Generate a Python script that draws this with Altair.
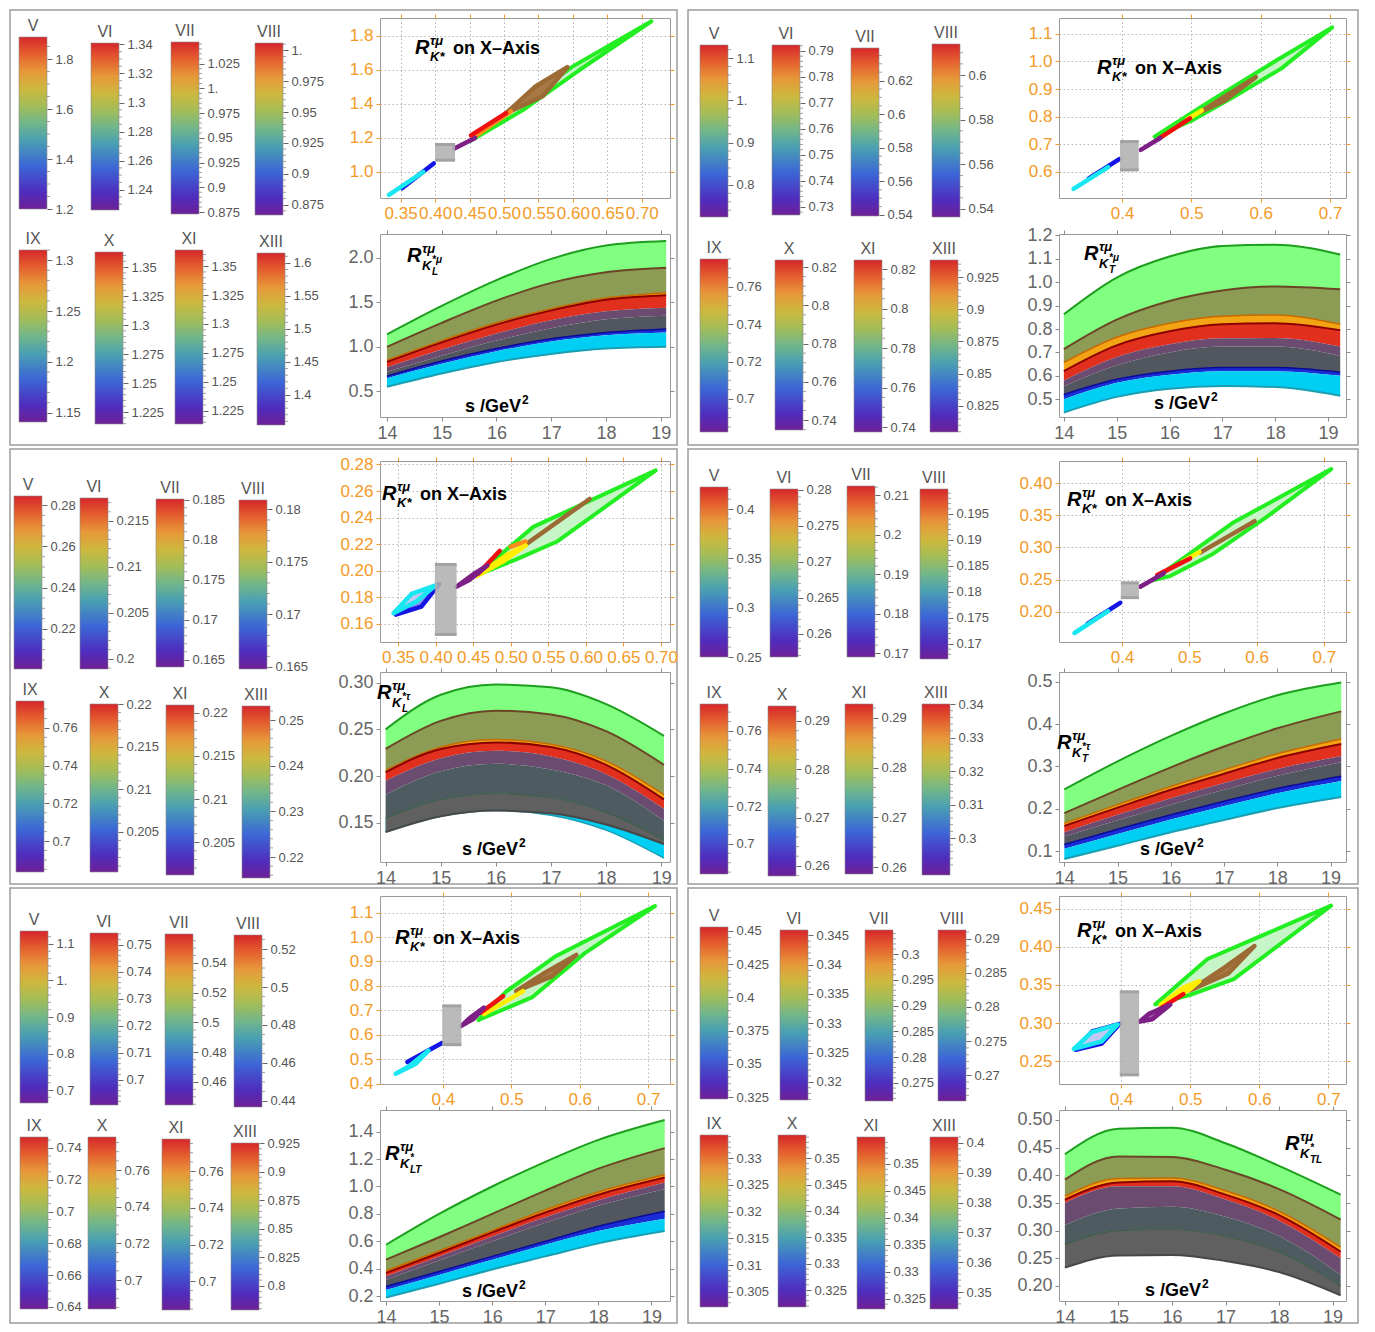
import math
import altair as alt
import pandas as pd

FONT = "Liberation Sans"
ORANGE = "#F39A27"
LABEL_GRAY = "#666666"

# ---------------- colour-bar data ----------------
CB_TITLES = ["V", "VI", "VII", "VIII", "IX", "X", "XI", "XIII"]

P1_CB_RANGE = [[1.2, 1.888], [1.226, 1.341], [0.873, 1.047], [0.8666, 1.006],
               [1.141, 1.31], [1.2147, 1.363], [1.2135, 1.364], [1.3545, 1.615]]
P1_CB_TICKS = [[1.2, 1.4, 1.6, 1.8], [1.24, 1.26, 1.28, 1.3, 1.32, 1.34],
               [0.875, 0.9, 0.925, 0.95, 0.975, 1.0, 1.025], [0.875, 0.9, 0.925, 0.95, 0.975, 1.0],
               [1.15, 1.2, 1.25, 1.3], [1.225, 1.25, 1.275, 1.3, 1.325, 1.35],
               [1.225, 1.25, 1.275, 1.3, 1.325, 1.35], [1.4, 1.45, 1.5, 1.55, 1.6]]

P2_CB_RANGE = [[0.724, 1.131], [0.7269, 0.7923], [0.5394, 0.6394], [0.5364, 0.6139],
               [0.6823, 0.775], [0.7348, 0.8237], [0.7375, 0.8246], [0.8048, 0.9382]]
P2_CB_TICKS = [[0.8, 0.9, 1.0, 1.1], [0.73, 0.74, 0.75, 0.76, 0.77, 0.78, 0.79],
               [0.54, 0.56, 0.58, 0.6, 0.62, 0.64], [0.54, 0.56, 0.58, 0.6],
               [0.7, 0.72, 0.74, 0.76], [0.74, 0.76, 0.78, 0.8, 0.82],
               [0.74, 0.76, 0.78, 0.8, 0.82], [0.825, 0.85, 0.875, 0.9, 0.925]]

P3_CB_RANGE = [[0.2006, 0.2844], [0.1989, 0.2175], [0.1641, 0.1851], [0.1648, 0.1809],
               [0.6836, 0.7743], [0.2003, 0.22], [0.2012, 0.2209], [0.2154, 0.2531]]
P3_CB_TICKS = [[0.22, 0.24, 0.26, 0.28], [0.2, 0.205, 0.21, 0.215],
               [0.165, 0.17, 0.175, 0.18, 0.185], [0.165, 0.17, 0.175, 0.18],
               [0.7, 0.72, 0.74, 0.76], [0.205, 0.21, 0.215, 0.22],
               [0.205, 0.21, 0.215, 0.22], [0.22, 0.23, 0.24, 0.25]]

P4_CB_RANGE = [[0.25, 0.4223], [0.2568, 0.2801], [0.169, 0.2123], [0.1671, 0.1998],
               [0.684, 0.7743], [0.2579, 0.2931], [0.2586, 0.2928], [0.289, 0.34]]
P4_CB_TICKS = [[0.25, 0.3, 0.35, 0.4], [0.26, 0.265, 0.27, 0.275, 0.28],
               [0.17, 0.18, 0.19, 0.2, 0.21], [0.17, 0.175, 0.18, 0.185, 0.19, 0.195],
               [0.7, 0.72, 0.74, 0.76], [0.26, 0.27, 0.28, 0.29],
               [0.26, 0.27, 0.28, 0.29], [0.3, 0.31, 0.32, 0.33, 0.34]]

P5_CB_RANGE = [[0.6644, 1.1356], [0.6907, 0.7544], [0.4445, 0.5595], [0.4368, 0.5274],
               [0.6387, 0.7469], [0.6842, 0.778], [0.6844, 0.7775], [0.7789, 0.925]]
P5_CB_TICKS = [[0.7, 0.8, 0.9, 1.0, 1.1], [0.7, 0.71, 0.72, 0.73, 0.74, 0.75],
               [0.46, 0.48, 0.5, 0.52, 0.54], [0.44, 0.46, 0.48, 0.5, 0.52],
               [0.64, 0.66, 0.68, 0.7, 0.72, 0.74], [0.7, 0.72, 0.74, 0.76],
               [0.7, 0.72, 0.74, 0.76], [0.8, 0.825, 0.85, 0.875, 0.9, 0.925]]

P6_CB_RANGE = [[0.3235, 0.453], [0.3169, 0.3459], [0.2715, 0.3047], [0.2662, 0.2913],
               [0.3022, 0.3343], [0.3218, 0.3544], [0.3231, 0.355], [0.3443, 0.402]]
P6_CB_TICKS = [[0.325, 0.35, 0.375, 0.4, 0.425, 0.45], [0.32, 0.325, 0.33, 0.335, 0.34, 0.345],
               [0.275, 0.28, 0.285, 0.29, 0.295, 0.3], [0.27, 0.275, 0.28, 0.285, 0.29],
               [0.305, 0.31, 0.315, 0.32, 0.325, 0.33], [0.325, 0.33, 0.335, 0.34, 0.345, 0.35],
               [0.325, 0.33, 0.335, 0.34, 0.345, 0.35], [0.35, 0.36, 0.37, 0.38, 0.39, 0.4]]

CB_RANGES = [P1_CB_RANGE, P2_CB_RANGE, P3_CB_RANGE, P4_CB_RANGE, P5_CB_RANGE, P6_CB_RANGE]
CB_TICKS = [P1_CB_TICKS, P2_CB_TICKS, P3_CB_TICKS, P4_CB_TICKS, P5_CB_TICKS, P6_CB_TICKS]

# ---------------- "on X-Axis" plots ----------------
P1_SHAPES = {
    "green": [(0.452, 1.184), (0.52, 1.39), (0.60, 1.62), (0.714, 1.885), (0.61, 1.60), (0.53, 1.37)],
    "brown": [(0.503, 1.345), (0.545, 1.50), (0.592, 1.615), (0.556, 1.445)],
    "orange": [(0.455, 1.2), (0.51, 1.355)],
    "red": [(0.452, 1.215), (0.503, 1.345)],
    "purple": [(0.428, 1.137), (0.458, 1.2)],
    "blue": [(0.352, 0.905), (0.398, 1.05)],
    "cyan": [(0.333, 0.866), (0.383, 1.0)],
}
P1_BOX = [0.400, 0.429, 1.069, 1.161]

P2_SHAPES = {
    "green": [(0.447, 0.727), (0.52, 0.845), (0.62, 1.0), (0.703, 1.124), (0.63, 0.975), (0.56, 0.87), (0.50, 0.785)],
    "brown": [(0.512, 0.815), (0.55, 0.876), (0.593, 0.943), (0.548, 0.858)],
    "yellow": [(0.494, 0.79), (0.515, 0.822)],
    "red": [(0.453, 0.72), (0.498, 0.793)],
    "purple": [(0.427, 0.679), (0.455, 0.722)],
    "blue": [(0.352, 0.575), (0.396, 0.645)],
    "cyan": [(0.330, 0.537), (0.38, 0.616)],
}
P2_BOX = [0.397, 0.424, 0.606, 0.709]

P3_SHAPES = {
    "green": [(0.453, 0.196), (0.53, 0.233), (0.693, 0.2755), (0.562, 0.222), (0.505, 0.208)],
    "brown": [(0.523, 0.221), (0.605, 0.254)],
    "orange": [(0.50, 0.218), (0.52, 0.222)],
    "yellow": [(0.455, 0.196), (0.49, 0.207), (0.52, 0.219), (0.495, 0.212)],
    "red": [(0.457, 0.198), (0.4855, 0.215)],
    "purple": [(0.428, 0.188), (0.452, 0.198), (0.469, 0.204), (0.445, 0.193)],
    "blue": [(0.347, 0.167), (0.381, 0.173), (0.405, 0.19)],
    "cyan": [(0.344, 0.168), (0.368, 0.1825), (0.40, 0.189), (0.375, 0.177)],
}
P3_BOX = [0.399, 0.428, 0.152, 0.2047]

P4_SHAPES = {
    "green": [(0.445, 0.249), (0.564, 0.338), (0.711, 0.422), (0.613, 0.346), (0.535, 0.29), (0.47, 0.255)],
    "brown": [(0.516, 0.292), (0.597, 0.341)],
    "yellow": [(0.49, 0.278), (0.515, 0.293)],
    "red": [(0.452, 0.257), (0.501, 0.283)],
    "purple": [(0.427, 0.239), (0.462, 0.26)],
    "blue": [(0.348, 0.181), (0.397, 0.214)],
    "cyan": [(0.329, 0.167), (0.379, 0.201)],
}
P4_BOX = [0.398, 0.425, 0.222, 0.245]

P5_SHAPES = {
    "green": [(0.452, 0.66), (0.493, 0.778), (0.564, 0.92), (0.71, 1.127), (0.607, 0.933), (0.531, 0.754)],
    "brown": [(0.507, 0.778), (0.55, 0.855), (0.595, 0.927), (0.56, 0.84)],
    "yellow": [(0.46, 0.684), (0.517, 0.778)],
    "red": [(0.455, 0.69), (0.488, 0.758)],
    "purple": [(0.427, 0.636), (0.445, 0.665), (0.46, 0.711), (0.44, 0.67)],
    "blue": [(0.348, 0.488), (0.398, 0.565)],
    "cyan": [(0.331, 0.44), (0.36, 0.48), (0.379, 0.535), (0.35, 0.47)],
}
P5_BOX = [0.399, 0.427, 0.559, 0.718]

P6_SHAPES = {
    "green": [(0.4495, 0.3245), (0.525, 0.384), (0.704, 0.454), (0.563, 0.3575), (0.50, 0.337)],
    "brown": [(0.50, 0.343), (0.55, 0.373), (0.593, 0.401), (0.555, 0.365)],
    "yellow": [(0.457, 0.324), (0.49, 0.3465), (0.513, 0.355), (0.499, 0.344)],
    "red": [(0.453, 0.317), (0.49, 0.338)],
    "purple": [(0.427, 0.302), (0.445, 0.305), (0.471, 0.324), (0.44, 0.312)],
    "blue": [(0.334, 0.265), (0.372, 0.273), (0.398, 0.299), (0.358, 0.289)],
    "cyan": [(0.3316, 0.266), (0.3575, 0.288), (0.395, 0.298), (0.372, 0.276)],
}
P6_BOX = [0.398, 0.426, 0.232, 0.341]

TOP_SHAPES = [P1_SHAPES, P2_SHAPES, P3_SHAPES, P4_SHAPES, P5_SHAPES, P6_SHAPES]
TOP_BOX = [P1_BOX, P2_BOX, P3_BOX, P4_BOX, P5_BOX, P6_BOX]

TOP_XDOM = [[0.32, 0.741], [0.309, 0.723], [0.326, 0.712], [0.306, 0.733], [0.308, 0.732], [0.310, 0.7255]]
TOP_YDOM = [[0.847, 1.904], [0.504, 1.158], [0.1463, 0.2826], [0.153, 0.4345], [0.398, 1.168], [0.22, 0.4667]]
X_TICKS_FINE = [0.35, 0.40, 0.45, 0.50, 0.55, 0.60, 0.65, 0.70]
X_TICKS_COARSE = [0.4, 0.5, 0.6, 0.7]
TOP_XTICKS = [X_TICKS_FINE, X_TICKS_COARSE, X_TICKS_FINE, X_TICKS_COARSE, X_TICKS_COARSE, X_TICKS_COARSE]
TOP_XFMT = [".2f", ".1f", ".2f", ".1f", ".1f", ".1f"]
TOP_YTICKS = [[1.0, 1.2, 1.4, 1.6, 1.8],
              [0.6, 0.7, 0.8, 0.9, 1.0, 1.1],
              [0.16, 0.18, 0.20, 0.22, 0.24, 0.26, 0.28],
              [0.20, 0.25, 0.30, 0.35, 0.40],
              [0.4, 0.5, 0.6, 0.7, 0.8, 0.9, 1.0, 1.1],
              [0.25, 0.30, 0.35, 0.40, 0.45]]
TOP_YFMT = [".1f", ".1f", ".2f", ".2f", ".1f", ".2f"]

# ---------------- s / GeV^2 band plots ----------------
P1_S = [14, 15, 16, 17, 18, 19.1]
P1_CURVES = {
    "G": [1.14, 1.46, 1.75, 1.99, 2.14, 2.19],
    "B": [1.00, 1.27, 1.52, 1.72, 1.84, 1.89],
    "O": [0.85, 1.07, 1.27, 1.43, 1.55, 1.61],
    "R": [0.83, 1.05, 1.25, 1.41, 1.53, 1.58],
    "Rb": [0.77, 0.97, 1.15, 1.30, 1.40, 1.44],
    "P": [0.72, 0.90, 1.07, 1.21, 1.31, 1.35],
    "Bl": [0.67, 0.84, 0.98, 1.09, 1.16, 1.20],
    "C": [0.645, 0.81, 0.95, 1.06, 1.13, 1.16],
    "Cb": [0.55, 0.70, 0.83, 0.92, 0.98, 1.00],
}
P2_S = [14, 15, 16, 17, 18, 19.23]
P2_CURVES = {
    "G": [0.863, 1.02, 1.11, 1.155, 1.16, 1.118],
    "B": [0.714, 0.84, 0.92, 0.965, 0.982, 0.97],
    "O": [0.657, 0.765, 0.825, 0.855, 0.86, 0.82],
    "R": [0.62, 0.73, 0.79, 0.82, 0.825, 0.795],
    "Rb": [0.58, 0.68, 0.735, 0.76, 0.762, 0.725],
    "P": [0.555, 0.645, 0.70, 0.725, 0.725, 0.685],
    "Bl": [0.52, 0.585, 0.62, 0.635, 0.635, 0.615],
    "C": [0.50, 0.57, 0.605, 0.62, 0.62, 0.60],
    "Cb": [0.443, 0.51, 0.545, 0.556, 0.552, 0.515],
}
P3_S = [14, 15, 16, 17, 18, 19.05]
P3_CURVES = {
    "G": [0.25, 0.287, 0.298, 0.295, 0.277, 0.243],
    "B": [0.229, 0.259, 0.27, 0.266, 0.248, 0.212],
    "O": [0.206, 0.231, 0.239, 0.234, 0.216, 0.18],
    "R": [0.204, 0.229, 0.236, 0.231, 0.212, 0.175],
    "Rb": [0.195, 0.219, 0.227, 0.221, 0.202, 0.165],
    "P": [0.18, 0.205, 0.213, 0.207, 0.19, 0.152],
    "M": [0.155, 0.175, 0.181, 0.177, 0.161, 0.132],
    "Gb": [0.14, 0.157, 0.163, 0.16, 0.148, 0.127],
    "Cb": [0.14, 0.157, 0.163, 0.158, 0.142, 0.112],
}
P4_S = [14, 15, 16, 17, 18, 19.2]
P4_CURVES = {
    "G": [0.246, 0.312, 0.372, 0.425, 0.468, 0.498],
    "B": [0.19, 0.245, 0.298, 0.347, 0.39, 0.43],
    "O": [0.166, 0.21, 0.253, 0.292, 0.33, 0.365],
    "R": [0.16, 0.203, 0.245, 0.283, 0.32, 0.353],
    "Rb": [0.145, 0.186, 0.225, 0.261, 0.294, 0.325],
    "P": [0.135, 0.173, 0.21, 0.245, 0.278, 0.31],
    "Bl": [0.116, 0.152, 0.186, 0.218, 0.248, 0.277],
    "C": [0.106, 0.141, 0.175, 0.207, 0.237, 0.266],
    "Cb": [0.082, 0.113, 0.145, 0.174, 0.202, 0.228],
}
P5_S = [14, 15, 16, 17, 18, 19.25]
P5_CURVES = {
    "G": [0.575, 0.80, 1.00, 1.18, 1.34, 1.485],
    "B": [0.466, 0.63, 0.80, 0.97, 1.13, 1.28],
    "O": [0.385, 0.53, 0.68, 0.83, 0.96, 1.085],
    "R": [0.37, 0.515, 0.665, 0.81, 0.94, 1.065],
    "Rb": [0.345, 0.49, 0.635, 0.775, 0.90, 1.03],
    "P": [0.32, 0.46, 0.60, 0.735, 0.86, 0.98],
    "Bl": [0.27, 0.38, 0.49, 0.60, 0.71, 0.82],
    "C": [0.245, 0.355, 0.465, 0.575, 0.675, 0.765],
    "Cb": [0.19, 0.29, 0.395, 0.49, 0.585, 0.675],
}
P6_S = [14, 15, 16, 17, 18, 19.15]
P6_CURVES = {
    "G": [0.438, 0.484, 0.486, 0.458, 0.417, 0.365],
    "B": [0.392, 0.434, 0.433, 0.41, 0.375, 0.32],
    "O": [0.362, 0.394, 0.395, 0.372, 0.335, 0.27],
    "R": [0.356, 0.387, 0.389, 0.365, 0.328, 0.262],
    "Rb": [0.35, 0.38, 0.38, 0.356, 0.318, 0.25],
    "P": [0.31, 0.34, 0.343, 0.325, 0.29, 0.22],
    "M": [0.275, 0.30, 0.302, 0.29, 0.262, 0.20],
    "Gb": [0.233, 0.255, 0.256, 0.245, 0.225, 0.183],
}
BOT_S = [P1_S, P2_S, P3_S, P4_S, P5_S, P6_S]
BOT_CURVES = [P1_CURVES, P2_CURVES, P3_CURVES, P4_CURVES, P5_CURVES, P6_CURVES]

BOT_XDOM = [[13.873, 19.17], [13.908, 19.34], [13.898, 19.16], [13.9, 19.29], [13.887, 19.35], [13.89, 19.25]]
BOT_YDOM = [[0.21, 2.27], [0.424, 1.206], [0.1079, 0.3114], [0.0748, 0.5228], [0.1646, 1.558], [0.1727, 0.518]]
BOT_XTICKS = [14, 15, 16, 17, 18, 19]
BOT_YTICKS = [[0.5, 1.0, 1.5, 2.0],
              [0.5, 0.6, 0.7, 0.8, 0.9, 1.0, 1.1, 1.2],
              [0.15, 0.20, 0.25, 0.30],
              [0.1, 0.2, 0.3, 0.4, 0.5],
              [0.2, 0.4, 0.6, 0.8, 1.0, 1.2, 1.4],
              [0.20, 0.25, 0.30, 0.35, 0.40, 0.45, 0.50]]
BOT_YFMT = [".1f", ".1f", ".2f", ".1f", ".1f", ".2f"]
BOT_LABEL_PARTS = [("*μ", "L"), ("*μ", "T"), ("*τ", "L"), ("*τ", "T"), ("*", "LT"), ("*", "TL")]

# ---------------- styles ----------------
RAINBOW = alt.Gradient(
    gradient="linear",
    stops=[alt.GradientStop(color=c, offset=o) for c, o in [
        ("#6E2096", 0.0), ("#4F2DBE", 0.1), ("#3C66D6", 0.25), ("#4AA0B2", 0.4),
        ("#72B689", 0.5), ("#A3BD58", 0.6), ("#CDB83E", 0.7), ("#E7983A", 0.8),
        ("#E4602E", 0.9), ("#D6262B", 1.0)]],
    x1=0, x2=0, y1=1, y2=0)

SHAPE_ORDER = ["green", "brown", "orange", "yellow", "red", "purple", "blue", "cyan"]
SHAPE_STYLE = {
    "green": ("#22EE22", "#C8F5C8", 4),
    "brown": ("#9C6A35", "#A87845", 4.5),
    "orange": ("#FF8C1A", "#FFB060", 4.5),
    "yellow": ("#FFEE00", "#FFF59A", 4.5),
    "red": ("#F01010", "#F05050", 4.5),
    "purple": ("#7E1F86", "#A060A8", 4.5),
    "blue": ("#1414E6", "#9090F0", 4.5),
    "cyan": ("#18E6F0", "#C0C8F4", 4.5),
}

C_GREEN, C_OLIVE, C_ORANGE, C_RED = "#80FF80", "#8C9C55", "#F2A414", "#E2301E"
C_PSLATE, C_SLATE, C_SLATE2, C_BLUE, C_CYAN, C_GRAY = "#6C4B70", "#51565F", "#4E5C62", "#1A2CD6", "#00CFF3", "#606060"
E_GREEN, E_BROWN, E_ORANGE, E_RED, E_BLUE, E_CYAN = "#1E9E1E", "#6B4626", "#C76A00", "#8B0000", "#0A0A96", "#1A9FB2"

TOP_BANDS = [("G", "B", C_GREEN), ("B", "O", C_OLIVE), ("O", "R", C_ORANGE), ("R", "Rb", C_RED)]
TOP_EDGES = [("G", E_GREEN, 2), ("B", E_BROWN, 2), ("O", E_ORANGE, 1.5), ("R", E_RED, 2)]
BANDS_STD = TOP_BANDS + [("Rb", "P", C_PSLATE), ("P", "Bl", C_SLATE), ("Bl", "C", C_BLUE), ("C", "Cb", C_CYAN)]
EDGES_STD = TOP_EDGES + [("Bl", E_BLUE, 1.5), ("Cb", E_CYAN, 2)]
BANDS_G3 = TOP_BANDS + [("Rb", "P", C_PSLATE), ("P", "M", C_SLATE2), ("M", "Cb", C_CYAN), ("M", "Gb", C_GRAY)]
EDGES_G3 = TOP_EDGES + [("M", "#3E5E48", 1.2), ("Cb", E_CYAN, 1.5), ("Gb", "#474747", 2)]
BANDS_G6 = TOP_BANDS + [("Rb", "P", C_PSLATE), ("P", "M", C_SLATE2), ("M", "Gb", C_GRAY)]
EDGES_G6 = TOP_EDGES + [("M", "#3E5E48", 1.2), ("Gb", "#474747", 2)]
BANDS = [BANDS_STD, BANDS_STD, BANDS_G3, BANDS_STD, BANDS_STD, BANDS_G6]
EDGES = [EDGES_STD, EDGES_STD, EDGES_G3, EDGES_STD, EDGES_STD, EDGES_G6]

# ---------------- layout (pixels) ----------------
COL_X = [8, 70, 145, 222, 378, 668, 760, 835, 912, 1057]
ROW_Y = [16, 232, 459, 670, 894, 1108]
ROW_H = [216, 227, 211, 224, 214, 200]
PLOT_W = [290, 287]
TOP_H = [180, 181, 188]
BOT_H = [183, 190, 191]
BAR_W = 28
BAR_X = [[17, 89, 169, 253, 17, 93, 173, 255],
         [698, 770, 849, 930, 698, 773, 852, 928],
         [12, 78, 154, 237, 14, 88, 164, 240],
         [698, 768, 845, 918, 698, 766, 843, 920],
         [18, 88, 163, 232, 18, 86, 160, 229],
         [698, 778, 863, 936, 698, 776, 855, 928]]
BAR_Y = [[(35, 207), (41, 208), (40, 212), (41, 213), (248, 420), (250, 422), (248, 422), (251, 423)],
         [(43, 215), (43, 213), (46, 214), (42, 215), (257, 430), (258, 428), (258, 430), (258, 430)],
         [(494, 667), (496, 667), (497, 665), (498, 667), (699, 870), (702, 870), (703, 873), (704, 876)],
         [(485, 655), (487, 655), (484, 655), (487, 657), (702, 872), (704, 874), (702, 872), (702, 873)],
         [(929, 1101), (931, 1103), (932, 1103), (933, 1105), (1135, 1307), (1135, 1307), (1137, 1308), (1141, 1308)],
         [(925, 1097), (928, 1098), (928, 1099), (928, 1099), (1133, 1305), (1133, 1305), (1135, 1307), (1135, 1307)]]
FRAMES = [(8, 8, 675, 443), (686, 8, 1356, 443), (8, 447, 675, 882),
          (686, 447, 1356, 882), (8, 886, 675, 1321), (686, 886, 1356, 1321)]
TOP_TITLE_POS = [(413, 52), (1095, 72), (380, 498), (1065, 504), (393, 942), (1075, 935)]
BOT_LABEL_POS = [(405, 260), (1082, 258), (375, 697), (1055, 747), (383, 1158), (1283, 1148)]
SGEV_POS = [(513, 410), (1202, 407), (510, 853), (1188, 853), (510, 1295), (1193, 1294)]

ONE = pd.DataFrame({"k": [0]})
LABEL_EXPR = "datum.value == 1 ? '1.' : format(datum.value, '.4~f')"


def text_layer(s, x, y, size, style="normal", weight="bold", align="left", color="black"):
    return alt.Chart(ONE).mark_text(
        text=s, font=FONT, fontSize=size, fontStyle=style, fontWeight=weight,
        align=align, baseline="alphabetic", color=color
    ).encode(x=alt.value(x), y=alt.value(y))


def make_minors(vmin, vmax, ticks):
    step = ticks[1] - ticks[0]
    lead = step / (10 ** math.floor(math.log10(step) + 1e-9))
    sub = 4 if abs(lead - 2) < 1e-6 else 5
    ms = step / sub
    n0 = math.ceil((vmin - ticks[0]) / ms - 1e-9)
    n1 = math.floor((vmax - ticks[0]) / ms + 1e-9)
    return [round(ticks[0] + n * ms, 6) for n in range(n0, n1 + 1) if n % sub != 0]


def mirror_layer(xs, ys, xdom, ydom, xvals, yvals, color):
    """Tick-only axes on the top and right edges of a framed plot."""
    mk = dict(labels=False, ticks=True, tickSize=4, tickColor=color, domain=False,
              grid=False, title=None)
    df = pd.DataFrame({"mx": [xdom[0]], "my": [ydom[0]]})
    return alt.Chart(df).mark_point(opacity=0).encode(
        x=alt.X("mx:Q", scale=xs, axis=alt.Axis(orient="top", values=xvals, **mk)),
        y=alt.Y("my:Q", scale=ys, axis=alt.Axis(orient="right", values=yvals, **mk)))


def colorbar_cell(p, k, j):
    idx = 4 * k + j
    vmin, vmax = CB_RANGES[p][idx]
    ticks = CB_TICKS[p][idx]
    r = 2 * (p // 2) + k
    c = (p % 2) * 5 + j
    W = COL_X[c + 1] - COL_X[c]
    H = ROW_H[r]
    a = BAR_X[p][idx] - COL_X[c]
    top, bot = BAR_Y[p][idx]
    t_rel, b_rel = top - ROW_Y[r], bot - ROW_Y[r]
    ysc = alt.Scale(domain=[vmin, vmax], range=[b_rel, t_rel], nice=False, zero=False)
    yax = alt.Axis(orient="right", offset=-(W - a - BAR_W), values=ticks, labelExpr=LABEL_EXPR,
                   title=None, domain=False, grid=False, tickSize=5, tickColor="#666666",
                   tickWidth=1, labelColor="#555555", labelFontSize=13, labelFont=FONT,
                   labelPadding=3, labelOverlap=False, labelFlush=False)
    bar = alt.Chart(pd.DataFrame({"lo": [vmin], "hi": [vmax]})).mark_rect(
        fill=RAINBOW, stroke="#8c8c8c", strokeWidth=0.6
    ).encode(x=alt.value(a), x2=alt.value(a + BAR_W),
             y=alt.Y("lo:Q", scale=ysc, axis=yax), y2="hi")
    minors = make_minors(vmin, vmax, ticks)
    mt = alt.Chart(pd.DataFrame({"lo": minors})).mark_rule(color="#8a8a8a", strokeWidth=0.8).encode(
        y=alt.Y("lo:Q", scale=ysc, axis=yax), x=alt.value(a + BAR_W), x2=alt.value(a + BAR_W + 3))
    title = text_layer(CB_TITLES[idx], a + BAR_W / 2, t_rel - 6, 16, weight="normal",
                       align="center", color="#555555")
    layers = [bar, mt, title]
    if k == 0 and j == 0:
        fx0, fy0, fx1, fy1 = FRAMES[p]
        frame = alt.Chart(ONE).mark_rect(fill="transparent", stroke="#9c9c9c", strokeWidth=1.5).encode(
            x=alt.value(fx0 - COL_X[c]), x2=alt.value(fx1 - COL_X[c]),
            y=alt.value(fy0 - ROW_Y[r]), y2=alt.value(fy1 - ROW_Y[r]))
        layers.insert(0, frame)
    return alt.layer(*layers).properties(width=W, height=H)


def top_cell(p):
    side, pr = p % 2, p // 2
    r, c = 2 * pr, side * 5 + 4
    W, H = PLOT_W[side], TOP_H[pr]
    xs = alt.Scale(domain=TOP_XDOM[p], nice=False, zero=False)
    ys = alt.Scale(domain=TOP_YDOM[p], nice=False, zero=False)
    common = dict(title=None, grid=True, gridColor="#b4b4b4", gridDash=[1.5, 2.5], gridWidth=1,
                  domain=False, tickColor=ORANGE, tickSize=4, labelColor=ORANGE, labelFontSize=17,
                  labelFont=FONT, labelOverlap=False, labelFlush=False, labelPadding=3)
    xax = alt.Axis(values=TOP_XTICKS[p], format=TOP_XFMT[p], **common)
    yax = alt.Axis(values=TOP_YTICKS[p], format=TOP_YFMT[p], **common)
    X = alt.X("x:Q", scale=xs, axis=xax)
    Y = alt.Y("y:Q", scale=ys, axis=yax)
    layers = []
    shapes = TOP_SHAPES[p]
    for name in SHAPE_ORDER:
        if name not in shapes:
            continue
        pts = shapes[name] + [shapes[name][0]]
        df = pd.DataFrame({"x": [q[0] for q in pts], "y": [q[1] for q in pts], "i": list(range(len(pts)))})
        stroke, fill, sw = SHAPE_STYLE[name]
        layers.append(alt.Chart(df).mark_line(
            stroke=stroke, fill=fill, strokeWidth=sw, strokeJoin="round", strokeCap="round", clip=True
        ).encode(x=X, y=Y, order="i:Q"))
    x0, x1, y0, y1 = TOP_BOX[p]
    bdf = pd.DataFrame({"x": [x0], "x2": [x1], "y": [y0], "y2": [y1]})
    layers.append(alt.Chart(bdf).mark_rect(color="#b0b0b0", opacity=0.88).encode(
        x=X, x2="x2", y=Y, y2="y2"))
    cdf = pd.DataFrame({"x": [x0, x0], "x2": [x1, x1], "y": [y0, y1]})
    layers.append(alt.Chart(cdf).mark_rule(color="#a2a2a2", strokeWidth=3).encode(x=X, x2="x2", y=Y))
    tx, ty = TOP_TITLE_POS[p]
    tx -= COL_X[c]
    ty -= ROW_Y[r]
    layers += [
        text_layer("R", tx, ty, 20, "italic"),
        text_layer("τμ", tx + 15, ty - 9, 13, "italic"),
        text_layer("K*", tx + 15, ty + 7, 13, "italic"),
        text_layer("on X–Axis", tx + 38, ty, 18),
    ]
    mirror = mirror_layer(xs, ys, TOP_XDOM[p], TOP_YDOM[p], TOP_XTICKS[p], TOP_YTICKS[p], ORANGE)
    return alt.layer(alt.layer(*layers), mirror).resolve_scale(
        x="independent", y="independent").properties(
        width=W, height=H, view=alt.ViewBackground(stroke="#9a9a9a", strokeWidth=1))


def bottom_cell(p):
    side, pr = p % 2, p // 2
    r, c = 2 * pr + 1, side * 5 + 4
    W, H = PLOT_W[side], BOT_H[pr]
    xs = alt.Scale(domain=BOT_XDOM[p], nice=False, zero=False)
    ys = alt.Scale(domain=BOT_YDOM[p], nice=False, zero=False)
    common = dict(title=None, grid=False, domain=False, tickColor="#8a8a8a", tickSize=4,
                  labelColor=LABEL_GRAY, labelFontSize=18, labelFont=FONT,
                  labelOverlap=False, labelFlush=False, labelPadding=3)
    xax = alt.Axis(values=BOT_XTICKS, format="d", **common)
    yax = alt.Axis(values=BOT_YTICKS[p], format=BOT_YFMT[p], **common)
    X = alt.X("s:Q", scale=xs, axis=xax)
    S = BOT_S[p]
    cv = BOT_CURVES[p]
    layers = []
    for t, b, col in BANDS[p]:
        df = pd.DataFrame({"s": S, "t": cv[t], "b": cv[b]})
        layers.append(alt.Chart(df).mark_area(color=col, interpolate="monotone", clip=True).encode(
            x=X, y=alt.Y("t:Q", scale=ys, axis=yax), y2="b"))
    for name, col, w in EDGES[p]:
        df = pd.DataFrame({"s": S, "v": cv[name]})
        layers.append(alt.Chart(df).mark_line(color=col, strokeWidth=w, interpolate="monotone", clip=True).encode(
            x=X, y=alt.Y("v:Q", scale=ys, axis=yax)))
    lx, ly = BOT_LABEL_POS[p]
    lx -= COL_X[c]
    ly -= ROW_Y[r]
    sup2, sub2 = BOT_LABEL_PARTS[p]
    layers += [
        text_layer("R", lx, ly, 20, "italic"),
        text_layer("τμ", lx + 15, ly - 9, 13, "italic"),
        text_layer("K", lx + 15, ly + 8, 13, "italic"),
        text_layer(sup2, lx + 25, ly + 1, 10, "italic"),
        text_layer(sub2, lx + 25, ly + 13, 10, "italic"),
    ]
    gx, gy = SGEV_POS[p]
    gx -= COL_X[c]
    gy -= ROW_Y[r]
    layers += [
        text_layer("s /GeV", gx + 6, gy, 18, align="right"),
        text_layer("2", gx + 7, gy - 8, 12, align="left"),
    ]
    mirror = mirror_layer(xs, ys, BOT_XDOM[p], BOT_YDOM[p], BOT_XTICKS, BOT_YTICKS[p], "#8a8a8a")
    return alt.layer(alt.layer(*layers), mirror).resolve_scale(
        x="independent", y="independent").properties(
        width=W, height=H, view=alt.ViewBackground(stroke="#9a9a9a", strokeWidth=1))


cells = []
for r in range(6):
    pr, k = r // 2, r % 2
    for side in range(2):
        p = 2 * pr + side
        for j in range(4):
            cells.append(colorbar_cell(p, k, j))
        cells.append(top_cell(p) if k == 0 else bottom_cell(p))

chart = alt.concat(*cells, columns=10, spacing=0, bounds="flush", padding=0).configure(
    font=FONT).configure_view(stroke="transparent")

chart.save("out.html", embed_options={"renderer": "svg", "actions": False})
